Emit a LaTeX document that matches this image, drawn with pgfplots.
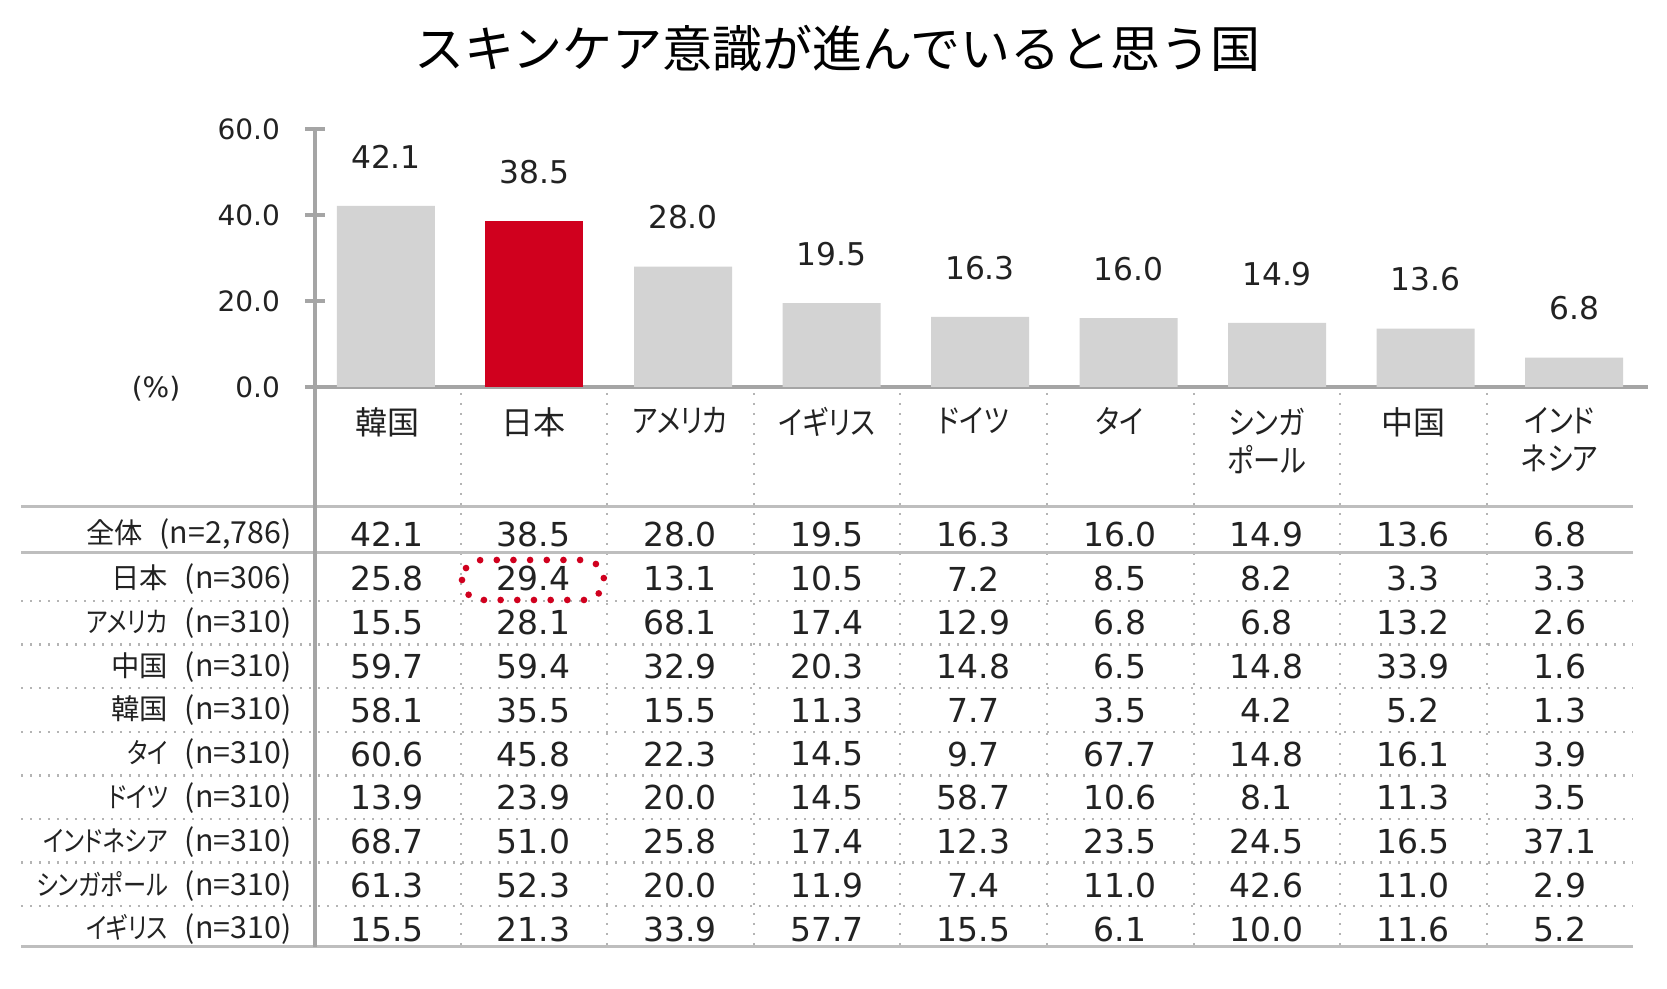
\documentclass[border=0pt]{standalone}
\usepackage{pgfplots}
\pgfplotsset{compat=1.18}
\usepackage{graphicx}
\usepackage{fontspec}
\setmainfont{DejaVu Sans}
\newfontfamily\jp{Noto Sans CJK JP}[RawFeature={+palt}]
\newfontfamily\jpt{Noto Sans CJK JP}
\newcommand{\sx}[1]{\scalebox{0.85}[1]{#1}}
\newcommand{\sr}[1]{\scalebox{0.82}[1]{#1}}
\definecolor{barGray}{RGB}{211,211,211}
\definecolor{barRed}{RGB}{208,0,30}
\definecolor{axGray}{RGB}{165,165,165}
\definecolor{lnGray}{RGB}{190,190,190}
\definecolor{dotGray}{RGB}{180,180,180}
\definecolor{txt}{RGB}{34,34,34}
\begin{document}
\begin{tikzpicture}[x=0.3pt,y=-0.3pt]
\useasboundingbox (0,0) rectangle (1667,989);
\coordinate (O) at (315,387);
\begin{axis}[at={(O)}, anchor=south west, scale only axis,
  width=399.9pt, height=77.4pt,
  xmin=-0.478, xmax=8.498, ymin=0, ymax=60,
  axis x line=bottom, axis y line=left,
  axis line style={-, draw=axGray, line width=1pt},
  xtick=\empty, ytick={0,20,40,60},
  tick style={draw=axGray, line width=1pt}, major tick length=6pt, tick align=center,
  yticklabel style={font=\fontsize{8.4}{9}\selectfont, text=txt, xshift=-4pt},
  /pgf/number format/fixed, /pgf/number format/zerofill,
  /pgf/number format/precision=1, /pgf/number format/assume math mode=true,
  clip=false]
\addplot[ybar, bar width=29.4pt, bar shift=0pt, fill=barGray, draw=none,
  nodes near coords,
  every node near coord/.append style={font=\fontsize{9.4}{10}\selectfont, text=txt, inner sep=0pt, yshift=11pt}]
  coordinates {(0,42.1) (2,28.0) (3,19.5) (4,16.3) (5,16.0) (6,14.9) (7,13.6) (8,6.8)};
\addplot[ybar, bar width=29.4pt, bar shift=0pt, fill=barRed, draw=none,
  nodes near coords,
  every node near coord/.append style={font=\fontsize{9.4}{10}\selectfont, text=txt, inner sep=0pt, yshift=11pt}]
  coordinates {(1,38.5)};
\end{axis}
% title
\node[font=\jpt\fontsize{15}{18}\selectfont, text=black] at (837,48) {スキンケア意識が進んでいると思う国};
\node[font=\fontsize{8.4}{9}\selectfont, text=txt] at (156,389) {(\%)};
% table lines
\foreach \k in {0,...,7} \draw[dotGray, line width=0.7pt, dash pattern=on 0.7pt off 2pt] (21,{601+43.6*\k}) -- (1633,{601+43.6*\k});
\foreach \k in {1,...,8} \draw[dotGray, line width=0.6pt, dash pattern=on 0.6pt off 2.4pt] ({314+146.6*\k},393) -- ({314+146.6*\k},947);
\draw[lnGray, line width=0.9pt] (21,507) -- (1633,507);
\draw[lnGray, line width=0.9pt] (21,553) -- (1633,553);
\draw[lnGray, line width=0.9pt] (21,947) -- (1633,947);
\draw[axGray, line width=1pt] (315,387) -- (315,947);
% header
\foreach \h [count=\c from 0] in {韓国, 日本, \sx{アメリカ}, \sx{イギリス}, \sx{ドイツ}, \sx{タイ}, {\sx{シンガ}\\\sx{ポール}}, 中国, {\sx{インド}\\\sx{ネシア}}}
  \node[anchor=north, align=center, inner sep=0pt, font=\jp\fontsize{9.6}{11.4}\selectfont, text=txt] at ({387+146.6*\c},407) {\h};
% row labels
\foreach \l [count=\r from 0] in {全体, 日本, \sr{アメリカ}, 中国, 韓国, \sr{タイ}, \sr{ドイツ}, \sr{インドネシア}, \sr{シンガポール}, \sr{イギリス}}
  \node[anchor=east, inner sep=0pt, font=\jp\fontsize{8.5}{9}\selectfont, text=txt] at (292,{\r==0 ? 534 : 579+43.8*(\r-1)}) {\l\hspace{0.6em}{\fontsize{9.1}{9}\selectfont(n=\ifnum\r=0 2,786\else\ifnum\r=1 306\else 310\fi\fi)}};
% values
\foreach \row [count=\r from 0] in {
 {42.1,38.5,28.0,19.5,16.3,16.0,14.9,13.6,6.8},
 {25.8,29.4,13.1,10.5,7.2,8.5,8.2,3.3,3.3},
 {15.5,28.1,68.1,17.4,12.9,6.8,6.8,13.2,2.6},
 {59.7,59.4,32.9,20.3,14.8,6.5,14.8,33.9,1.6},
 {58.1,35.5,15.5,11.3,7.7,3.5,4.2,5.2,1.3},
 {60.6,45.8,22.3,14.5,9.7,67.7,14.8,16.1,3.9},
 {13.9,23.9,20.0,14.5,58.7,10.6,8.1,11.3,3.5},
 {68.7,51.0,25.8,17.4,12.3,23.5,24.5,16.5,37.1},
 {61.3,52.3,20.0,11.9,7.4,11.0,42.6,11.0,2.9},
 {15.5,21.3,33.9,57.7,15.5,6.1,10.0,11.6,5.2}}
 {\foreach \v [count=\c from 0] in \row
   \node[inner sep=0pt, font=\fontsize{9.9}{10}\selectfont, text=txt] at ({387+146.6*\c},{\r==0 ? 534 : 579+43.8*(\r-1)}) {\v};}
% highlight
\draw[barRed, line width=2pt, line cap=round, dash pattern=on 0pt off 5pt, rounded corners=6pt] (462,560) rectangle (604,600);
\end{tikzpicture}
\end{document}
